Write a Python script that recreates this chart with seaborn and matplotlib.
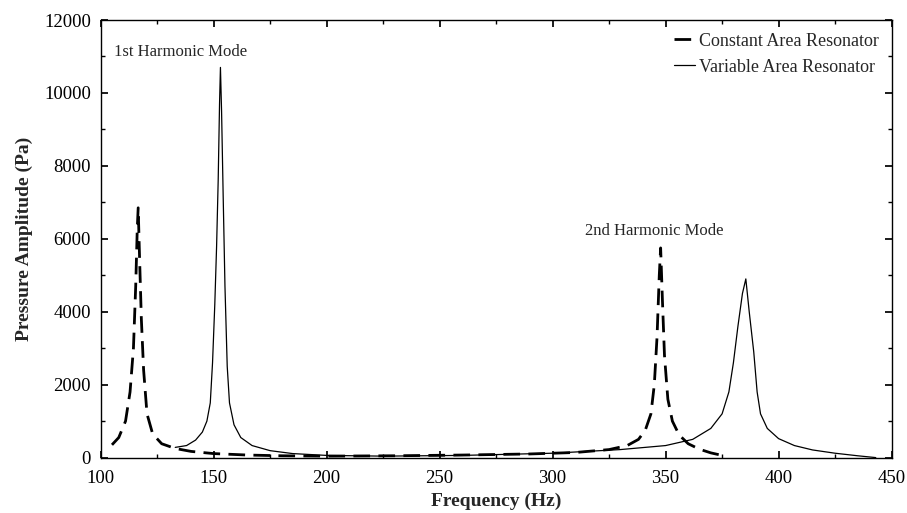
import matplotlib
matplotlib.use("Agg")
import matplotlib.pyplot as plt
import seaborn as sns
import pandas as pd
from matplotlib.ticker import MultipleLocator

const_freq = [105, 108, 111, 113, 114.5, 115.5, 116.2, 116.6, 117.2, 118, 119, 120.5, 123, 127, 133, 140, 150, 165, 180, 200, 230, 260, 290, 310, 325, 333, 338, 341, 343.5, 345, 346.2, 347.2, 347.8, 348.6, 349.5, 351, 353, 356, 360, 365, 370, 375]
const_amp = [350, 550, 1000, 1800, 3000, 4700, 6300, 6850, 5500, 3800, 2400, 1200, 650, 380, 250, 170, 110, 70, 50, 40, 50, 70, 100, 140, 220, 330, 500, 750, 1200, 2000, 3300, 5000, 5750, 4300, 2800, 1600, 1000, 620, 380, 230, 130, 60]
var_freq = [133, 138, 142, 145, 147, 148.5, 149.5, 150.5, 151.3, 152, 152.6, 153, 153.5, 154.2, 155, 156, 157, 159, 162, 167, 175, 185, 200, 225, 260, 300, 330, 350, 362, 370, 375, 378, 380, 382, 384, 385.5, 387, 389, 390.5, 392, 395, 400, 407, 415, 425, 435, 443]
var_amp = [280, 330, 480, 700, 1000, 1500, 2600, 4200, 5800, 7600, 9700, 10700, 9500, 7200, 4700, 2500, 1500, 900, 550, 330, 190, 110, 60, 40, 60, 120, 220, 330, 500, 800, 1200, 1800, 2600, 3600, 4500, 4900, 4000, 2900, 1800, 1200, 800, 520, 330, 210, 120, 50, 0]

df_c = pd.DataFrame({"f": const_freq, "p": const_amp})
df_v = pd.DataFrame({"f": var_freq, "p": var_amp})

sns.set_theme(style="ticks")
plt.rcParams['font.family'] = ['Liberation Serif', 'DejaVu Serif']
fig, ax = plt.subplots(figsize=(9.07, 5.13), dpi=100)
fig.subplots_adjust(left=0.111, right=0.983, top=0.961, bottom=0.108)

sns.lineplot(data=df_c, x="f", y="p", ax=ax, color="black", lw=2.0, label="Constant Area Resonator")
ax.lines[-1].set_dashes([6, 3])
sns.lineplot(data=df_v, x="f", y="p", ax=ax, color="black", lw=0.9, label="Variable Area Resonator")

ax.set_xlim(100, 450)
ax.set_ylim(0, 12000)
ax.xaxis.set_major_locator(MultipleLocator(50))
ax.xaxis.set_minor_locator(MultipleLocator(25))
ax.yaxis.set_major_locator(MultipleLocator(2000))
ax.yaxis.set_minor_locator(MultipleLocator(1000))
ax.tick_params(which="both", direction="in", top=True, right=True, labelsize=13.5, colors="black")
ax.tick_params(axis="x", pad=9)
ax.tick_params(axis="y", pad=7)
ax.tick_params(which="major", length=5)
ax.tick_params(which="minor", length=3)
for s in ax.spines.values():
    s.set_color("black"); s.set_linewidth(1.0)
ax.set_xlabel("Frequency (Hz)", fontsize=14, fontweight="bold", labelpad=4)
ax.set_ylabel("Pressure Amplitude (Pa)", fontsize=14, fontweight="bold", labelpad=8)
ax.text(106, 11000, "1st Harmonic Mode", fontsize=12)
ax.text(345, 6100, "2nd Harmonic Mode", fontsize=12, ha="center")
leg = ax.legend(loc="upper right", frameon=False, fontsize=13, handlelength=1.2, handletextpad=0.2, borderaxespad=0.3)
fig.savefig("out.png", dpi=100)
